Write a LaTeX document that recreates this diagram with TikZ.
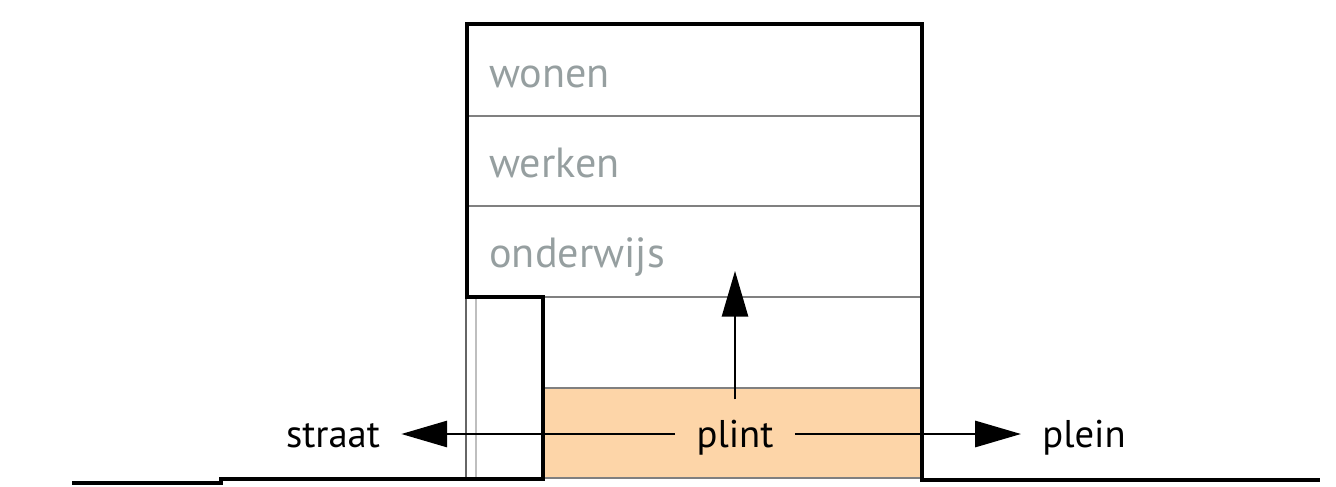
\documentclass[tikz,border=0pt]{standalone}
\usepackage{fontspec}
\setmainfont{PT Sans}
\usetikzlibrary{arrows.meta}
\definecolor{plintkleur}{RGB}{253,213,168}
\definecolor{tekstgrijs}{RGB}{150,159,160}
\tikzstyle{muur} = [line width=2.6pt, line join=miter]
\tikzstyle{vloer} = [draw=gray, line width=0.7pt]
\tikzstyle{functie} = [anchor=base west, inner sep=0pt, text=tekstgrijs,
font=\fontsize{24}{24}\selectfont]
\tikzstyle{richting} = [inner sep=12pt, text height=15pt, text depth=0pt,
font=\fontsize{22}{22}\selectfont]
\newcommand{\pijl}[2]{ %
  % arrow from node #1 to node #2
  \path (#1) edge [-{Triangle[length=26pt,width=15pt]}, line width=0.9pt] (#2) ;%
}

\begin{document}
\begin{tikzpicture}[x=0.02cm, y=-0.02cm]
  \useasboundingbox (0,0) rectangle (1336,487);
  % plint
  \fill[plintkleur] (543,388) rectangle (922,478);
  \draw[vloer] (543,388) -- (922,388);
  \draw[vloer] (543,478) -- (922,478);
  % verdiepingen
  \draw[vloer] (467,116) -- (922,116);
  \draw[vloer] (467,206) -- (922,206);
  \draw[vloer] (543,297) -- (922,297);
  % gevel links
  \draw[vloer, draw=gray!80!black] (466,297) -- (466,480);
  \draw[vloer, draw=gray!50] (476,297) -- (476,480);
  % omtrek en maaiveld
  \draw[muur] (72,483) -- (221,483) -- (221,479) -- (543,479) -- (543,297)
    -- (467,297) -- (467,24) -- (922,24) -- (922,480) -- (1320,480);
  \node[functie](wonen) at (489,87) {wonen};
  \node[functie](werken) at (489,177) {werken};
  \node[functie](onderwijs) at (489,267) {onderwijs};
  \node[richting](plint) at (735,434) {plint};
  \node[richting](straat) at (333,434) {straat};
  \node[richting](plein) at (1084,434) {plein};
  \coordinate (boven) at (735,271);
  \pijl{plint}{straat};
  \pijl{plint}{plein};
  \pijl{plint}{boven};
\end{tikzpicture}
\end{document}
